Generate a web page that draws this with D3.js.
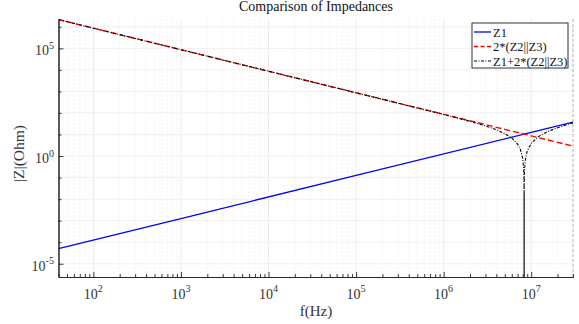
<!DOCTYPE html>
<html><head><meta charset="utf-8">
<script src="https://cdn.jsdelivr.net/npm/d3@7"></script>
<style>
body{margin:0;background:#fff}
svg{display:block;font-family:"Liberation Serif","Times New Roman",serif}
</style></head><body>
<svg id="chart" width="579" height="324"></svg>
<script>
// values (|Z| in Ohm against f in Hz)
const fZ1 = [40, 1e3, 1e5, 1e7, 3e7];
const magZ1 = [5.0e-5, 1.26e-3, 0.126, 12.6, 37.7];
const fZp = [40, 1e3, 1e5, 1e7, 3e7];
const magZp = [2.16e6, 8.66e4, 866, 8.66, 2.89];
const fTot = [40, 1e3, 1e5, 1e6, 2e6, 3e6, 4e6, 5e6, 6e6, 7e6, 7.5e6, 8e6, 8.2e6, 8.25e6, 8.28e6, 8.29e6,
  8.294e6, 8.296e6, 8.298e6, 8.3e6, 8.302e6, 8.304e6, 8.306e6, 8.31e6, 8.32e6, 8.35e6, 8.4e6, 8.6e6, 9e6, 1e7, 1.2e7, 1.5e7, 2e7, 2.5e7, 3e7];
const magTot = [2.16e6, 8.66e4, 866, 85.3, 40.8, 25.1, 16.6, 11.0, 6.89, 3.57, 2.12, 0.768, 0.253, 0.126, 0.050, 0.025,
  1e-8, 0.02, 1e-8, 0.02, 1e-8, 0.02, 1e-8, 0.025, 0.050, 0.126, 0.25, 0.741, 1.69, 3.91, 7.87, 13.1, 20.8, 28.0, 34.8];
const seriesNames = ['Z1', '2*(Z2||Z3)', 'Z1+2*(Z2||Z3)'];
const xLabelTicks = [1e2, 1e3, 1e4, 1e5, 1e6, 1e7];
const yLabelTicks = [1e-5, 1, 1e5];

const W = 579, H = 324, m = { t: 19, r: 6, b: 47, l: 58.5 };
const svg = d3.select('#chart');
const x = d3.scaleLog().domain([40, 3e7]).range([m.l, W - m.r]);
const y = d3.scaleLog().domain([2.43e-6, 2.3e6]).range([H - m.b, m.t]);
const exp = v => Math.round(Math.log10(v));
const isDecade = v => Math.abs(Math.log10(v) - exp(v)) < 1e-9;

// grid (very faint, as in the reference)
const xt = x.ticks(), yt = y.ticks().filter(isDecade);
svg.append('g').selectAll('line').data(xt).join('line')
  .attr('x1', d => x(d)).attr('x2', d => x(d)).attr('y1', m.t).attr('y2', H - m.b)
  .attr('stroke', d => isDecade(d) ? '#ebebeb' : '#f3f3f3').attr('stroke-width', 1)
  .attr('stroke-dasharray', d => isDecade(d) ? null : '2,2');
svg.append('g').selectAll('line').data(yt).join('line')
  .attr('x1', m.l).attr('x2', W - m.r).attr('y1', d => y(d)).attr('y2', d => y(d))
  .attr('stroke', '#efefef').attr('stroke-width', 1);
svg.append('line').attr('x1', W - m.r).attr('x2', W - m.r).attr('y1', m.t).attr('y2', H - m.b)
  .attr('stroke', '#b4b4b4').attr('stroke-dasharray', '3,2');

// curves
svg.append('clipPath').attr('id', 'clip').append('rect')
  .attr('x', m.l).attr('y', m.t).attr('width', W - m.r - m.l).attr('height', H - m.b - m.t);
const line = d3.line().x(d => x(d[0])).y(d => y(Math.max(d[1], 1e-9)));
const plot = svg.append('g').attr('clip-path', 'url(#clip)');
plot.append('path').datum(d3.zip(fZ1, magZ1)).attr('d', line)
  .attr('fill', 'none').attr('stroke', '#0000ff').attr('stroke-width', 1.3);
plot.append('path').datum(d3.zip(fZp, magZp)).attr('d', line)
  .attr('fill', 'none').attr('stroke', '#ff0000').attr('stroke-width', 1.4).attr('stroke-dasharray', '6,3');
plot.append('path').datum(d3.zip(fTot, magTot)).attr('d', line)
  .attr('fill', 'none').attr('stroke', '#000').attr('stroke-width', 1.1).attr('stroke-dasharray', '3,1.5,1,1.5');

// axes, ticks inward
const ink = '#262626';
const gx = svg.append('g').attr('transform', `translate(0,${H - m.b})`);
gx.call(d3.axisBottom(x).tickValues(xt.filter(d => !isDecade(d))).tickSize(-3).tickSizeOuter(0).tickFormat(''));
gx.append('g').call(d3.axisBottom(x).tickValues(xt.filter(isDecade)).tickSize(-5).tickSizeOuter(0).tickFormat(''));
const gy = svg.append('g').attr('transform', `translate(${m.l},0)`);
gy.call(d3.axisLeft(y).tickValues(yt.filter(d => !yLabelTicks.includes(d))).tickSize(-3).tickSizeOuter(0).tickFormat(''));
gy.append('g').call(d3.axisLeft(y).tickValues(yLabelTicks).tickSize(-5).tickSizeOuter(0).tickFormat(''));
svg.selectAll('.domain, .tick line').attr('stroke', ink).attr('stroke-width', 1);
svg.selectAll('.tick line').attr('stroke-width', 0.9);

const pow = (sel, v, fs) => {
  sel.append('tspan').text('10');
  sel.append('tspan').attr('dy', -fs * 0.45).attr('font-size', fs * 0.72).text(exp(v));
};
svg.append('g').selectAll('text').data(xLabelTicks).join('text')
  .attr('x', d => x(d)).attr('y', 298.5).attr('text-anchor', 'middle')
  .attr('font-size', 14).attr('fill', '#333')
  .each(function (d) { pow(d3.select(this), d, 14); });
svg.append('g').selectAll('text').data(yLabelTicks).join('text')
  .attr('x', 54).attr('y', d => y(d) + 7).attr('text-anchor', 'end')
  .attr('font-size', 14).attr('fill', '#333')
  .each(function (d) { pow(d3.select(this), d, 14); });

// labels
svg.append('text').attr('x', 316).attr('y', 11).attr('text-anchor', 'middle')
  .attr('font-size', 14).attr('fill', '#111').text('Comparison of Impedances');
svg.append('text').attr('x', 316).attr('y', 316).attr('text-anchor', 'middle')
  .attr('font-size', 15).attr('fill', '#333').text('f(Hz)');
svg.append('text').attr('transform', 'translate(24,153.5) rotate(-90)').attr('text-anchor', 'middle')
  .attr('font-size', 15.5).attr('fill', '#333').text('|Z|(Ohm)');

// legend
const leg = svg.append('g').attr('transform', 'translate(472,23)');
leg.append('rect').attr('width', 96).attr('height', 45).attr('fill', '#fff').attr('stroke', '#333').attr('stroke-width', 1);
const styles = [['#0000ff', null, 1.3], ['#ff0000', '4,2.5', 1.4], ['#000', '3,1.5,1,1.5', 1.1]];
const row = leg.selectAll('g').data(seriesNames).join('g').attr('transform', (d, i) => `translate(0,${9 + i * 14.5})`);
row.append('line').attr('x1', 2).attr('x2', 19).attr('stroke', (d, i) => styles[i][0])
  .attr('stroke-dasharray', (d, i) => styles[i][1]).attr('stroke-width', (d, i) => styles[i][2]);
row.append('text').attr('x', 21).attr('y', 4.5).attr('font-size', 12.5).attr('fill', '#111').text(d => d);
</script>
</body></html>
